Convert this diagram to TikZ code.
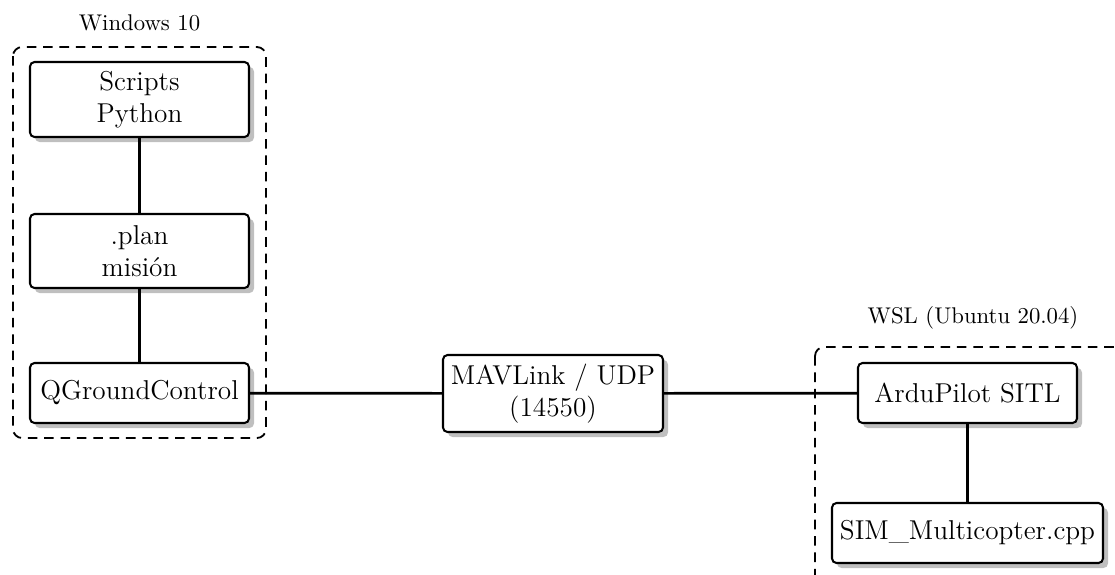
\documentclass[tikz,border=0pt]{standalone}
\usetikzlibrary{shadows}
\tikzset{
  blk/.style={draw, line width=0.9pt, rounded corners=2pt, fill=white, align=center,
    inner sep=2pt, font=\large,
    drop shadow={shadow xshift=2.2pt, shadow yshift=-2.2pt, fill=black!25, opacity=1}},
  grp/.style={draw, line width=0.8pt, dash pattern=on 4.2pt off 3pt, rounded corners=4pt},
  link/.style={line width=1.2pt},
  grplabel/.style={font=\normalsize}
}
\begin{document}
\begin{tikzpicture}[x=0.44pt, y=-0.44pt]
\clip (0,0) rectangle (1115,574);
\useasboundingbox (0,0) rectangle (1115,574);
\draw[grp] (13,47) rectangle (266,438);
\draw[grp] (815,347) rectangle (1131,600);
\node[grplabel] (wlab) at (139.5,23) {Windows 10};
\node[grplabel] (slab) at (973,318) {WSL (Ubuntu 20.04)};
\node[blk, minimum width=219*0.44pt, minimum height=75*0.44pt] (py) at (139.5,99.5) {Scripts\\Python};
\node[blk, minimum width=219*0.44pt, minimum height=74*0.44pt] (plan) at (139.5,251) {.plan\\misión};
\node[blk, minimum width=219*0.44pt, minimum height=60*0.44pt] (qgc) at (139.5,393) {QGroundControl};
\node[blk, minimum width=220*0.44pt, minimum height=77*0.44pt] (mav) at (553,393.5) {MAVLink / UDP\\(14550)};
\node[blk, minimum width=219*0.44pt, minimum height=60*0.44pt] (ardu) at (967.5,393) {ArduPilot SITL};
\node[blk, minimum width=271*0.44pt, minimum height=60*0.44pt] (sim) at (967.5,533) {SIM\_Multicopter.cpp};
\draw[link] (py) -- (plan);
\draw[link] (plan) -- (qgc);
\draw[link] (qgc) -- (mav);
\draw[link] (mav) -- (ardu);
\draw[link] (ardu) -- (sim);
\end{tikzpicture}
\end{document}
